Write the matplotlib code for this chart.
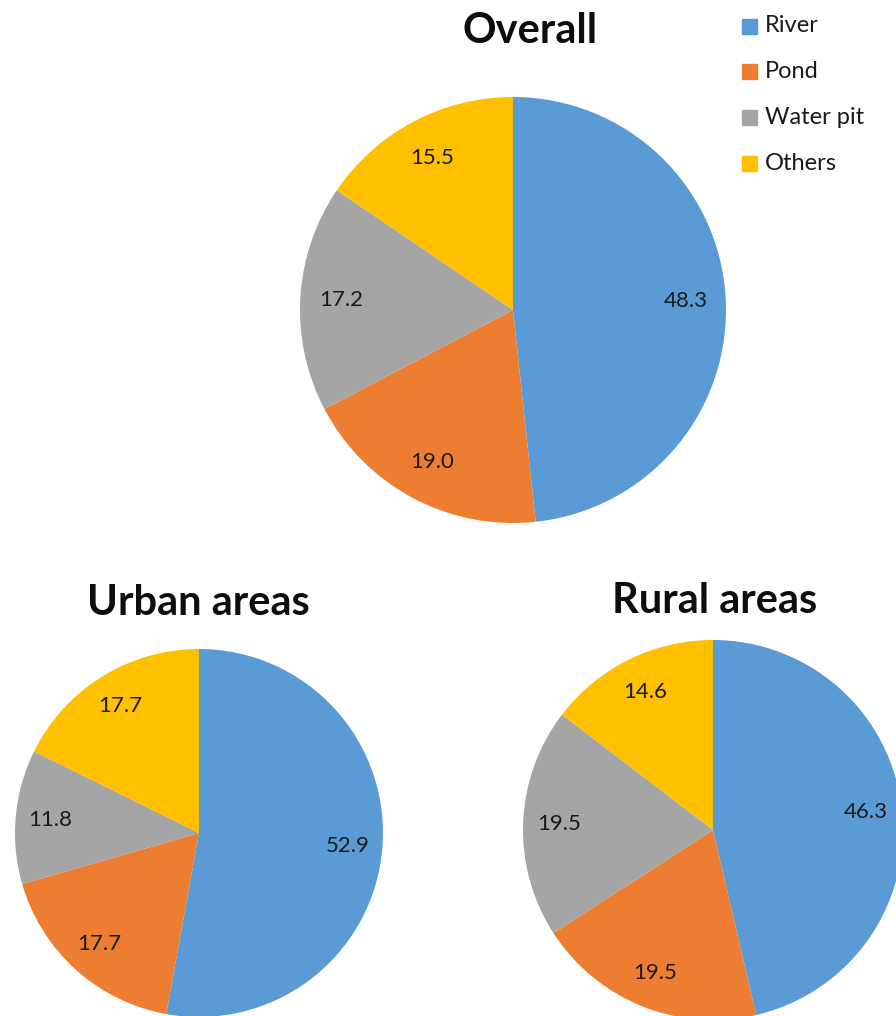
import matplotlib
matplotlib.use('Agg')

import matplotlib.pyplot as plt

plt.rcParams['font.family'] = ['Lato', 'DejaVu Sans']

categories = ['River', 'Pond', 'Water pit', 'Others']
colors = ['#5B9BD5', '#ED7D31', '#A5A5A5', '#FFC000']

overall = [48.3, 19.0, 17.2, 15.5]
urban = [52.9, 17.7, 11.8, 17.7]
rural = [46.3, 19.5, 19.5, 14.6]

W, H = 896, 1016
fig = plt.figure(figsize=(W / 100, H / 100), dpi=100)


def draw_pie(values, cx, cy, r, title, title_x, title_y):
    # cx, cy, r in pixels (y measured from top)
    ax = fig.add_axes([(cx - r) / W, (H - cy - r) / H, 2 * r / W, 2 * r / H])
    wedges, texts = ax.pie(values, colors=colors, startangle=90,
                           counterclock=False, radius=1)
    # data labels show the raw values, not re-normalised percentages
    for w, v in zip(wedges, values):
        import numpy as np
        ang = np.deg2rad((w.theta1 + w.theta2) / 2)
        ax.text(0.81 * np.cos(ang), 0.81 * np.sin(ang), f'{v:.1f}',
                ha='center', va='center', fontsize=16, color='#1a1a1a')
    ax.set_xlim(-1, 1)
    ax.set_ylim(-1, 1)
    ax.set_aspect('equal')
    ax.axis('off')
    fig.text(title_x / W, 1 - title_y / H, title, ha='center', va='center',
             fontsize=30, fontweight='bold', color='#0d0d0d')
    return wedges


draw_pie(overall, 513, 310, 213, 'Overall', 530, 31)
draw_pie(urban, 199, 833, 184, 'Urban areas', 198, 603)
draw_pie(rural, 713, 830, 190, 'Rural areas', 715, 601)

# legend
for i, (name, c) in enumerate(zip(categories, colors)):
    y = 26 + i * 45.7
    fig.patches.append(plt.Rectangle((742 / W, 1 - (y + 7.5) / H), 15 / W, 15 / H,
                                     transform=fig.transFigure, color=c))
    fig.text(765 / W, 1 - y / H, name, ha='left', va='center', fontsize=17,
             color='#1a1a1a')

plt.savefig('out.png', dpi=100)
plt.close(fig)
